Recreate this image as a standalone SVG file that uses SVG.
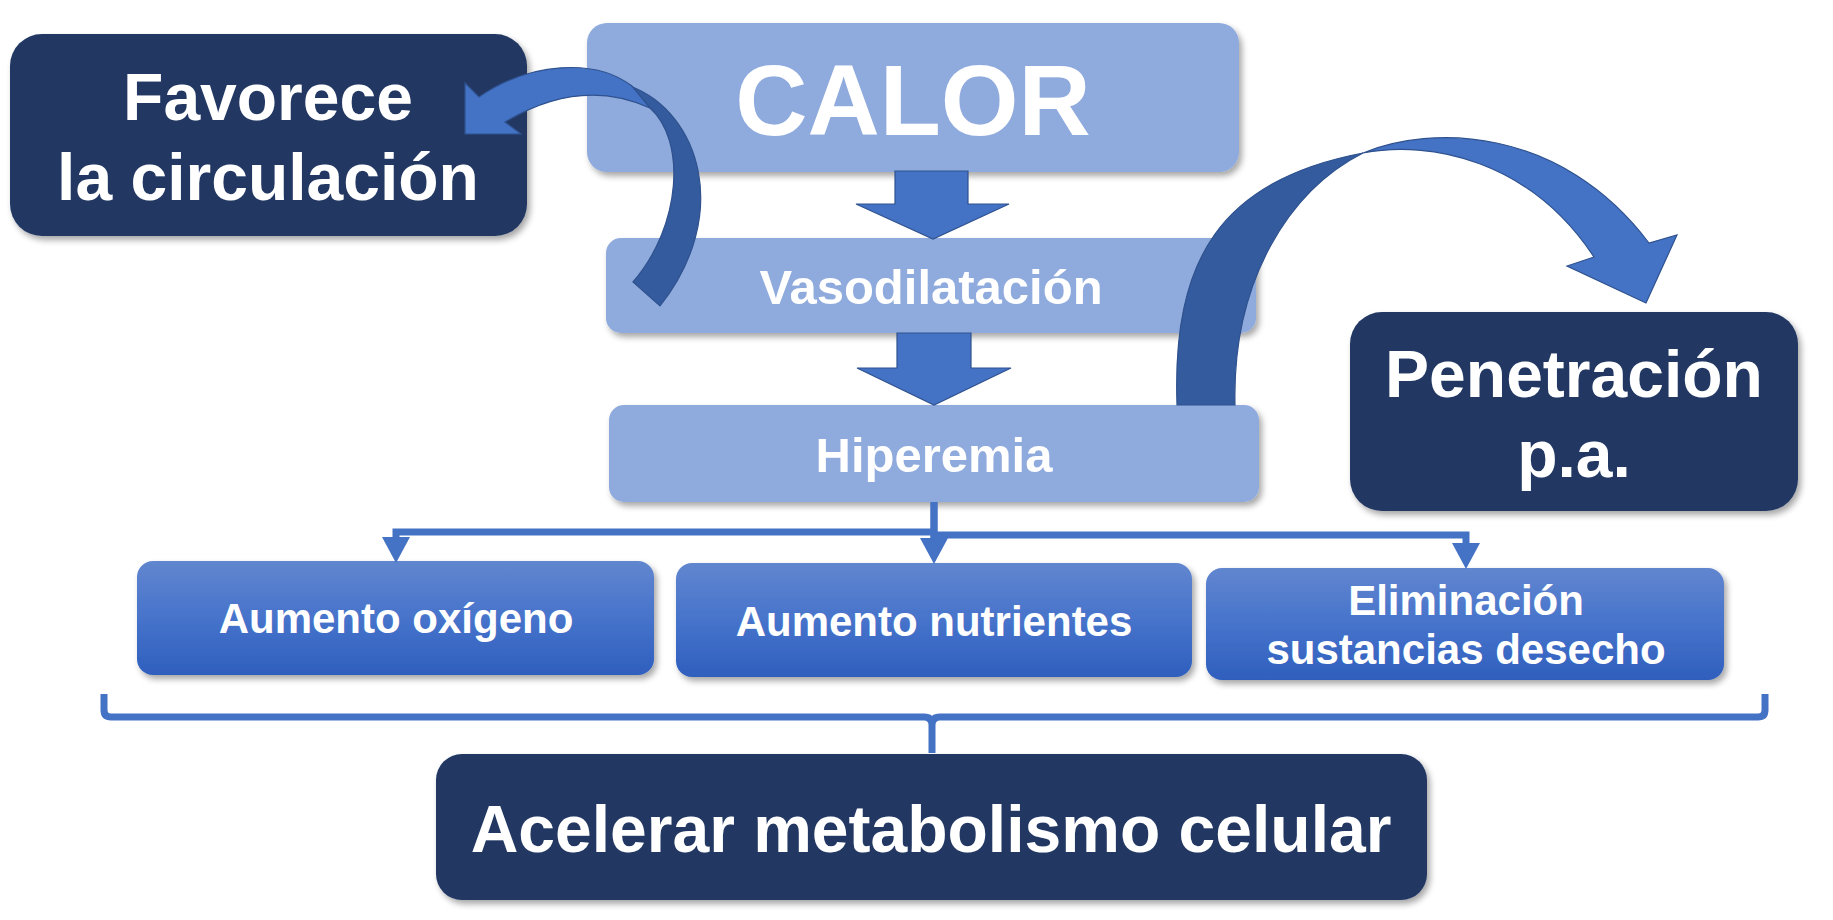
<svg xmlns="http://www.w3.org/2000/svg" width="1833" height="920" viewBox="0 0 1833 920">
<style>
.t{font-family:"Liberation Sans",Arial,sans-serif;font-weight:bold;fill:#ffffff;text-anchor:middle}
.dark{fill:#213864}
.light{fill:#8faadc}
.blk{fill:#4472c4;stroke:#2f528f;stroke-width:1.2}
.blkd{fill:#345b9d;stroke:#2f528f;stroke-width:1.2}
.ln{fill:none;stroke:#4472c4;stroke-width:7}
</style>
<defs>
<filter id="sh" x="-10%" y="-10%" width="125%" height="130%">
<feDropShadow dx="3" dy="4" stdDeviation="3" flood-color="#000" flood-opacity="0.35"/>
</filter>
<linearGradient id="gb" x1="0" y1="0" x2="0" y2="1">
<stop offset="0" stop-color="#6286cf"/>
<stop offset="0.5" stop-color="#4673cb"/>
<stop offset="1" stop-color="#2f5fbd"/>
</linearGradient>
<marker id="ah" viewBox="0 0 26 28" refX="0" refY="14" markerWidth="26" markerHeight="28" markerUnits="userSpaceOnUse" orient="auto">
<path d="M0,0 L26,14 L0,28 Z" fill="#4472c4"/>
</marker>
</defs>

<g id="node-favorece">
<rect class="dark" x="10" y="34" width="517" height="202" rx="32" filter="url(#sh)"/>
<text class="t" x="268" y="120" font-size="66">Favorece</text>
<text class="t" x="268" y="200" font-size="66">la circulación</text>
</g>

<g id="node-calor">
<rect class="light" x="587" y="23" width="652" height="149" rx="20" filter="url(#sh)"/>
<text class="t" x="913" y="135" font-size="100">CALOR</text>
</g>

<g id="node-vasodilatacion">
<rect class="light" x="606" y="238" width="650" height="95" rx="15" filter="url(#sh)"/>
<text class="t" x="931" y="304" font-size="49">Vasodilatación</text>
</g>

<g id="node-hiperemia">
<rect class="light" x="609" y="405" width="650" height="97" rx="15" filter="url(#sh)"/>
<text class="t" x="934" y="472" font-size="49">Hiperemia</text>
</g>

<g id="node-penetracion">
<rect class="dark" x="1350" y="312" width="448" height="199" rx="32" filter="url(#sh)"/>
<text class="t" x="1574" y="397" font-size="66">Penetración</text>
<text class="t" x="1574" y="477" font-size="66">p.a.</text>
</g>

<g id="node-oxigeno">
<rect fill="url(#gb)" x="137" y="561" width="517" height="114" rx="16" filter="url(#sh)"/>
<text class="t" x="396" y="633" font-size="42">Aumento oxígeno</text>
</g>

<g id="node-nutrientes">
<rect fill="url(#gb)" x="676" y="563" width="516" height="114" rx="16" filter="url(#sh)"/>
<text class="t" x="934" y="636" font-size="42">Aumento nutrientes</text>
</g>

<g id="node-eliminacion">
<rect fill="url(#gb)" x="1206" y="568" width="518" height="112" rx="16" filter="url(#sh)"/>
<text class="t" x="1466" y="615" font-size="42">Eliminación</text>
<text class="t" x="1466" y="664" font-size="42">sustancias desecho</text>
</g>

<g id="node-acelerar">
<rect class="dark" x="436" y="754" width="991" height="146" rx="26" filter="url(#sh)"/>
<text class="t" x="931" y="852" font-size="66">Acelerar metabolismo celular</text>
</g>

<g id="connectors">
<polygon class="blk" points="895,171 968,171 968,204 1009,204 933,239 856,204 895,204"/>
<polygon class="blk" points="897,333 971,333 971,368 1011,368 934,405 857,368 897,368"/>

<path class="ln" d="M934,502 V532 H396 V537" marker-end="url(#ah)"/>
<path class="ln" d="M934,502 V538" marker-end="url(#ah)"/>
<path class="ln" d="M934,532 V535 H1466 V543" marker-end="url(#ah)"/>

<path class="ln" d="M104,694 V710 Q104,717 111,717 H924 Q932,717 932,725 V753 M932,725 Q932,717 940,717 H1758 Q1765,717 1765,710 V694"/>

<path class="blkd" d="M630,86 C700,112 732,215 660,306 L633,282 C682,225 686,140 650,108 Z"/>
<path class="blk" d="M465,83 L479,97 C530,62 595,58 632,86 L650,108 C600,85 550,95 505,122 L521,134 L465,134 Z"/>

<path class="blkd" d="M1177,405 C1172,260 1220,180 1363,153 C1290,190 1232,280 1235,405 Z"/>
<path class="blk" d="M1363,153 C1430,125 1560,125 1649,243 L1677,235 L1646,303 L1567,266 L1594,257 C1530,160 1430,140 1363,153 Z"/>
</g>
</svg>
